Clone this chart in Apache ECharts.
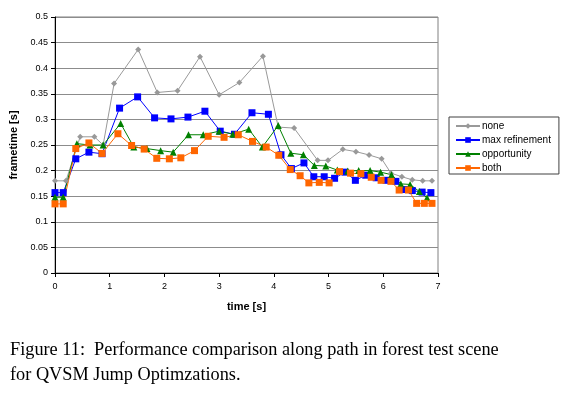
<!DOCTYPE html>
<html>
<head>
<meta charset="utf-8">
<script src="https://cdn.jsdelivr.net/npm/echarts@6/dist/echarts.min.js"></script>
<style>
html,body{margin:0;padding:0;background:#fff;}
#c{width:571px;height:393px;}
</style>
</head>
<body>
<div id="c"></div>
<script>
var seriesNames = ['none', 'max refinement', 'opportunity', 'both'];

var noneT = [0, 0.2, 0.46, 0.72, 0.88, 1.08, 1.52, 1.87, 2.24, 2.65, 3.0, 3.37, 3.8, 4.08, 4.37, 4.8, 4.99, 5.26, 5.5, 5.74, 5.97, 6.14, 6.34, 6.53, 6.72, 6.89];
var noneY = [0.18, 0.18, 0.266, 0.266, 0.25, 0.37, 0.4365, 0.3526, 0.356, 0.4225, 0.348, 0.372, 0.4235, 0.285, 0.283, 0.22, 0.22, 0.2415, 0.237, 0.2305, 0.223, 0.195, 0.188, 0.182, 0.18, 0.18];

var maxT = [0, 0.15, 0.38, 0.62, 0.86, 1.18, 1.51, 1.82, 2.12, 2.43, 2.74, 3.02, 3.28, 3.6, 3.9, 4.13, 4.32, 4.55, 4.73, 4.92, 5.11, 5.3, 5.49, 5.68, 5.87, 6.05, 6.23, 6.38, 6.53, 6.71, 6.87];
var maxY = [0.157, 0.157, 0.223, 0.236, 0.233, 0.322, 0.344, 0.303, 0.301, 0.3045, 0.316, 0.277, 0.271, 0.313, 0.31, 0.231, 0.204, 0.215, 0.188, 0.188, 0.185, 0.197, 0.181, 0.191, 0.186, 0.181, 0.179, 0.163, 0.161, 0.158, 0.157];

var oppT = [0, 0.15, 0.4, 0.64, 0.88, 1.2, 1.44, 1.68, 1.93, 2.16, 2.44, 2.71, 3.0, 3.25, 3.54, 3.79, 4.08, 4.31, 4.54, 4.74, 4.95, 5.16, 5.35, 5.55, 5.76, 5.95, 6.15, 6.32, 6.49, 6.66, 6.8];
var oppY = [0.148, 0.148, 0.2526, 0.25, 0.25, 0.292, 0.246, 0.243, 0.239, 0.236, 0.27, 0.27, 0.277, 0.271, 0.281, 0.246, 0.288, 0.234, 0.231, 0.21, 0.209, 0.201, 0.199, 0.2, 0.2, 0.197, 0.192, 0.174, 0.173, 0.159, 0.147];

var bothT = [0, 0.15, 0.38, 0.62, 0.86, 1.15, 1.4, 1.63, 1.86, 2.09, 2.3, 2.55, 2.8, 3.09, 3.35, 3.61, 3.86, 4.09, 4.3, 4.48, 4.64, 4.83, 5.01, 5.2, 5.4, 5.59, 5.78, 5.96, 6.14, 6.29, 6.46, 6.61, 6.75, 6.89];
var bothY = [0.135, 0.135, 0.243, 0.254, 0.2335, 0.272, 0.249, 0.242, 0.224, 0.223, 0.225, 0.239, 0.267, 0.265, 0.27, 0.257, 0.246, 0.23, 0.202, 0.19, 0.176, 0.177, 0.176, 0.198, 0.195, 0.194, 0.187, 0.181, 0.179, 0.162, 0.162, 0.136, 0.136, 0.136];

var xTicks = ['0', '1', '2', '3', '4', '5', '6', '7'];
var caption1 = 'Figure 11:  Performance comparison along path in forest test scene';
var caption2 = 'for QVSM Jump Optimzations.';

function pairs(t, y) { return t.map(function (v, i) { return [v, y[i]]; }); }

var colors = ['#999999', '#0000ff', '#008000', '#ff6600'];
var symbols = ['diamond', 'rect', 'triangle', 'rect'];
var sizes = [6, 7, 7, 7];
var datas = [pairs(noneT, noneY), pairs(maxT, maxY), pairs(oppT, oppY), pairs(bothT, bothY)];

var series = seriesNames.map(function (n, i) {
  return {
    name: n, type: 'line', data: datas[i], symbol: symbols[i], symbolSize: sizes[i],
    showAllSymbol: true, animation: false,
    lineStyle: { color: colors[i], width: 1 },
    itemStyle: { color: colors[i] }
  };
});

var chart = echarts.init(document.getElementById('c'), null, { renderer: 'canvas' });
chart.setOption({
  animation: false,
  textStyle: { fontFamily: 'Liberation Sans, Arial, sans-serif' },
  grid: { left: 55, right: 133, top: 17, bottom: 120, show: true, borderColor: '#808080', borderWidth: 1 },
  xAxis: {
    type: 'value', min: 0, max: 7, interval: 1,
    name: 'time [s]', nameLocation: 'middle', nameGap: 28,
    nameTextStyle: { fontWeight: 'bold', fontSize: 11, color: '#000' },
    axisLine: { lineStyle: { color: '#000', width: 1 } },
    axisTick: { show: true, inside: false, length: 4, lineStyle: { color: '#000' } },
    axisLabel: { fontSize: 9, color: '#000', margin: 9, formatter: function (v) { return xTicks[Math.round(v)]; } },
    splitLine: { show: false }
  },
  yAxis: {
    type: 'value', min: 0, max: 0.5, interval: 0.05,
    name: 'frametime [s]', nameLocation: 'middle', nameGap: 31, nameRotate: 90,
    nameTextStyle: { fontWeight: 'bold', fontSize: 11, color: '#000' },
    axisLine: { show: true, lineStyle: { color: '#000', width: 1 } },
    axisTick: { show: true, inside: false, length: 4, lineStyle: { color: '#000' } },
    axisLabel: { fontSize: 9, color: '#000', margin: 7, formatter: function (v) { return String(Math.round(v * 100) / 100); } },
    splitLine: { show: true, lineStyle: { color: '#8c8c8c', width: 1 } }
  },
  legend: {
    orient: 'vertical', left: 449, top: 117, width: 112,
    data: seriesNames,
    itemWidth: 24, itemHeight: 7, itemGap: 4,
    padding: [4, 8, 1, 6],
    borderColor: '#404040', borderWidth: 1,
    textStyle: { fontSize: 10, color: '#000', padding: [0, 0, 0, -3] }
  },
  graphic: [
    { type: 'text', left: 10, top: 341, style: { text: caption1, font: '18.3px "Liberation Serif", "Times New Roman", serif', fill: '#000' } },
    { type: 'text', left: 10, top: 366, style: { text: caption2, font: '18.3px "Liberation Serif", "Times New Roman", serif', fill: '#000' } }
  ],
  series: series
});
</script>
</body>
</html>
